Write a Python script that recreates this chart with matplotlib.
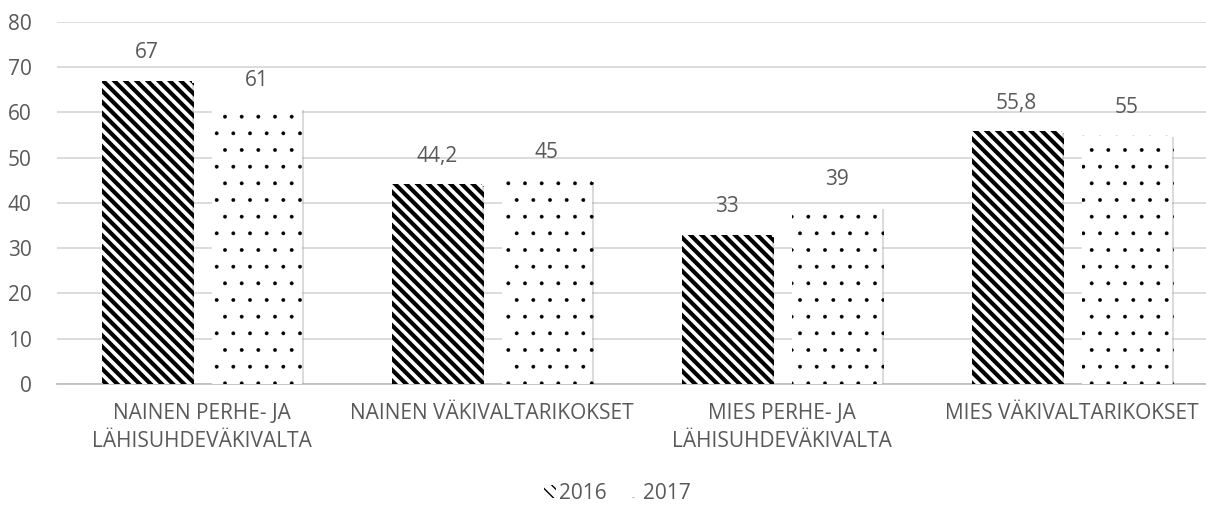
import numpy as np
import matplotlib
matplotlib.use('Agg')
import matplotlib.pyplot as plt
from matplotlib.patches import Patch
import matplotlib.patheffects as pe

categories = ['NAINEN PERHE- JA\nLÄHISUHDEVÄKIVALTA', 'NAINEN VÄKIVALTARIKOKSET',
              'MIES PERHE- JA\nLÄHISUHDEVÄKIVALTA', 'MIES VÄKIVALTARIKOKSET']
vals_2016 = [67, 44.2, 33, 55.8]
vals_2017 = [61, 45, 39, 55]
series_names = ['2016', '2017']

plt.rcParams['font.family'] = ['Open Sans', 'DejaVu Sans']
grey = '#595959'
fs = 15

fig = plt.figure(figsize=(12.06, 5.09), dpi=100)
ax = fig.add_axes([0.047, 0.246, 0.962, 0.711])

shadow = [pe.SimplePatchShadow(offset=(1.5, -1.5), shadow_rgbFace='#9a9a9a', alpha=0.35),
          pe.Normal()]

x = np.arange(len(categories))
w = 0.31
b1 = ax.bar(x - 0.19, vals_2016, w, facecolor='white', edgecolor='black',
            linewidth=0, hatch='\\\\\\', zorder=3)
b2 = ax.bar(x + 0.19, vals_2017, w, facecolor='white', edgecolor='black',
            linewidth=0, hatch='.', zorder=3)
for r in b1:
    r.set_hatch_linewidth(3.0)
    r.set_path_effects(shadow)
for r in b2:
    r.set_hatch_linewidth(0.3)
    r.set_path_effects(shadow)

def fmt(v):
    return ('%g' % v).replace('.', ',')

for bars, vals in [(b1, vals_2016), (b2, vals_2017)]:
    for r, v in zip(bars, vals):
        ax.annotate(fmt(v), (r.get_x() + r.get_width() / 2, v), xytext=(0, 16),
                    textcoords='offset points', ha='center', va='baseline',
                    fontsize=fs, color=grey)

ax.set_xlim(-0.5, 3.5)
ax.set_ylim(0, 80)
ax.set_yticks(range(0, 81, 10))
ax.set_xticks(x)
ax.set_xticklabels(categories, linespacing=1.45)
ax.tick_params(axis='both', length=0, labelsize=fs, labelcolor=grey)
ax.tick_params(axis='x', pad=14)
ax.tick_params(axis='y', pad=18)
ax.grid(axis='y', color='#d9d9d9', linewidth=1.3, zorder=0)
for s in ['top', 'right', 'left']:
    ax.spines[s].set_visible(False)
ax.spines['bottom'].set_color('#bfbfbf')
ax.spines['bottom'].set_linewidth(1.3)

h1 = Patch(facecolor='white', edgecolor='black', linewidth=0, hatch='\\\\\\')
h1.set_hatch_linewidth(3.0)
h2 = Patch(facecolor='white', edgecolor='black', linewidth=0, hatch='.')
h2.set_hatch_linewidth(0.3)
fig.legend([h1, h2], series_names, loc='center', bbox_to_anchor=(0.512, 0.031),
           ncol=2, frameon=False, fontsize=fs, labelcolor=grey,
           handlelength=0.6, handleheight=0.6, handletextpad=0.15, columnspacing=1.0)

fig.savefig('out.png', dpi=100)
